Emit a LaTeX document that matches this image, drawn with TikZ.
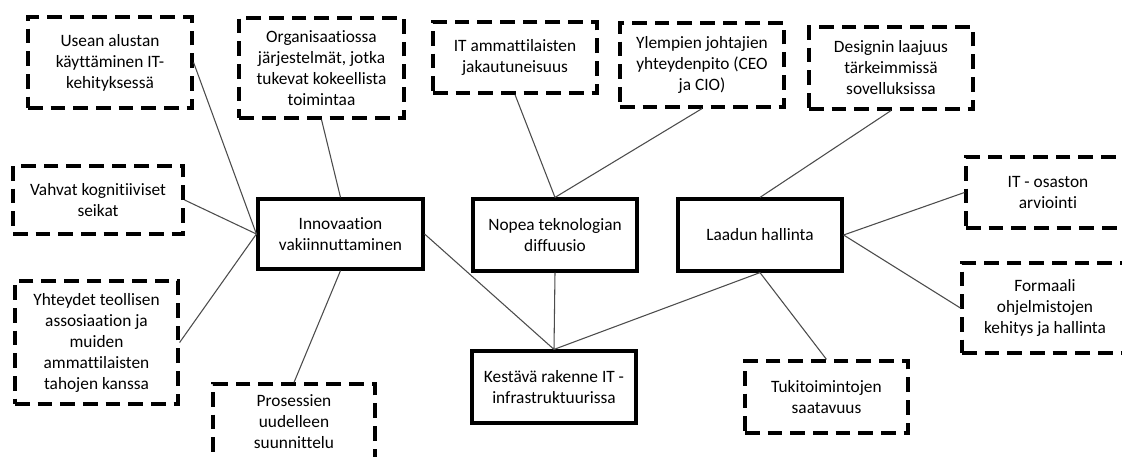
\documentclass[tikz,border=0pt]{standalone}
\usepackage{fontspec}
\setmainfont{Carlito}[Ligatures={NoCommon}]
\usetikzlibrary{shadows}
\tikzset{
  factor/.style={draw=black, line width=2.4pt, dash pattern=on 11pt off 6pt,
    fill=white, align=center, inner sep=0pt, font=\fontsize{13}{15.75}\selectfont},
  core/.style={draw=black, line width=2.4pt, fill=white, align=center, inner sep=0pt,
    font=\fontsize{13}{15.75}\selectfont,
    drop shadow={opacity=0.25, shadow xshift=1.5pt, shadow yshift=-1.5pt}},
  link/.style={draw=black!70, line width=0.8pt}
}
\begin{document}
\begin{tikzpicture}[x=0.75pt, y=-0.75pt]
\clip (0,0) rectangle (1122,457);
\fill[white] (0,0) rectangle (1122,457);

% central solid boxes
\node[core, minimum width=123.75pt, minimum height=52.5pt] (A) at (340.5,234) {Innovaation\\vakiinnuttaminen};
\node[core, minimum width=123pt, minimum height=54pt] (B) at (555,235) {Nopea teknologian\\diffuusio};
\node[core, minimum width=123pt, minimum height=54pt] (C) at (760,235) {Laadun hallinta};
\node[core, minimum width=123pt, minimum height=54pt] (D) at (554,387) {Kestävä rakenne IT -\\infrastruktuurissa};

% surrounding dashed boxes
\node[factor, minimum width=123pt, minimum height=68.25pt] (b1) at (110,62.5) {Usean alustan\\käyttäminen IT-\\kehityksessä};
\node[factor, minimum width=123.75pt, minimum height=75pt] (b2) at (321.5,68) {Organisaatiossa\\järjestelmät, jotka\\tukevat kokeellista\\toimintaa};
\node[factor, minimum width=127.5pt, minimum height=51pt] (b3) at (98,200) {Vahvat kognitiiviset\\seikat};
\node[factor, minimum width=122.25pt, minimum height=92.25pt] (b4) at (96.5,342.5) {Yhteydet teollisen\\assosiaation ja\\muiden\\ammattilaisten\\tahojen kanssa};
\node[factor, minimum width=121.5pt, minimum height=57pt] (b5) at (294,422) {Prosessien\\uudelleen\\suunnittelu};
\node[factor, minimum width=123pt, minimum height=53.25pt] (b6) at (515,57.5) {IT ammattilaisten\\jakautuneisuus};
\node[factor, minimum width=123pt, minimum height=63pt] (b7) at (702,65) {Ylempien johtajien\\yhteydenpito (CEO\\ja CIO)};
\node[factor, minimum width=123pt, minimum height=61.5pt] (b8) at (891,68) {Designin laajuus\\tärkeimmissä\\sovelluksissa};
\node[factor, minimum width=123pt, minimum height=53.25pt] (b9) at (1048,192.5) {IT - osaston\\arviointi};
\node[factor, minimum width=124.5pt, minimum height=67.5pt] (b10) at (1045,308) {Formaali\\ohjelmistojen\\kehitys ja hallinta};
\node[factor, minimum width=122.25pt, minimum height=54pt] (b11) at (826.5,397) {Tukitoimintojen\\saatavuus};

% connectors
\draw[link] (b1.east) -- (A.west);
\draw[link] (b3.east) -- (A.west);
\draw[link] (b4.east) -- (A.west);
\draw[link] (b2.south) -- (A.north);
\draw[link] (b5.north) -- (A.south);
\draw[link] (A.east) -- (D.north);
\draw[link] (B.south) -- (D.north);
\draw[link] (C.south) -- (D.north);
\draw[link] (b6.south) -- (B.north);
\draw[link] (b7.south) -- (B.north);
\draw[link] (b8.south) -- (C.north);
\draw[link] (C.east) -- (b9.west);
\draw[link] (C.east) -- (b10.west);
\draw[link] (C.south) -- (b11.north);
\end{tikzpicture}
\end{document}
